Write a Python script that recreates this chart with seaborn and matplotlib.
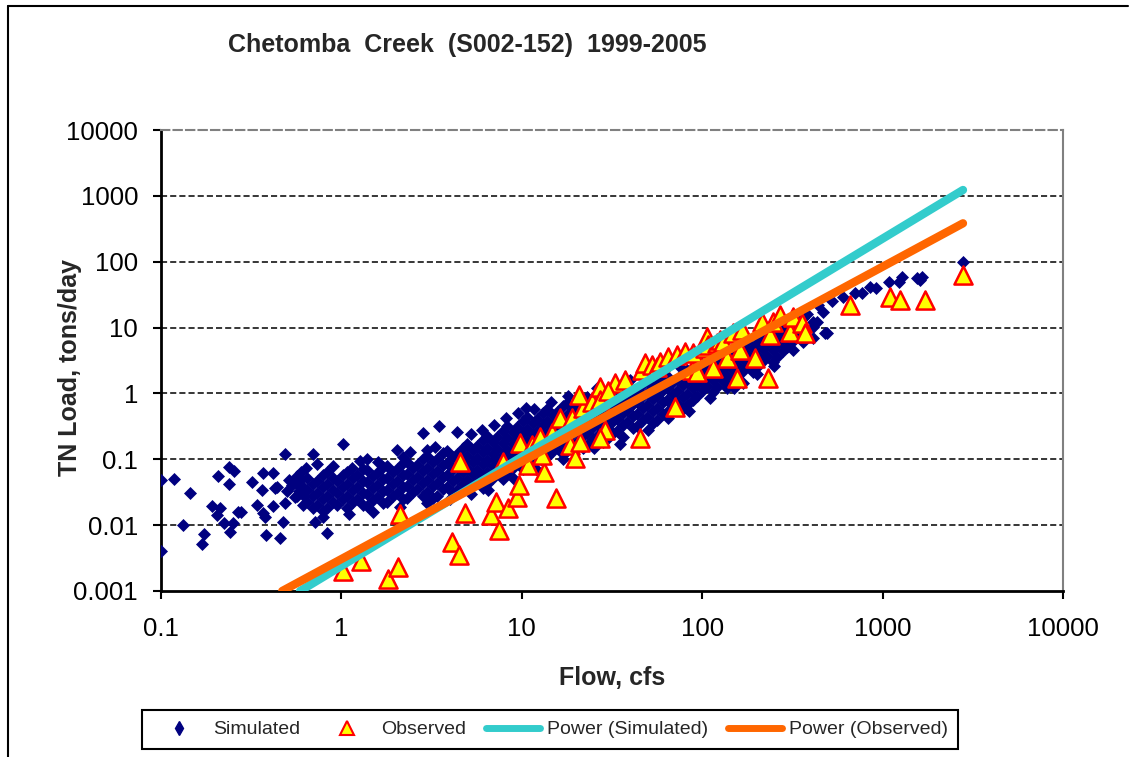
import pandas as pd
import matplotlib
matplotlib.use('Agg')
import matplotlib.pyplot as plt
from matplotlib.lines import Line2D
from matplotlib.ticker import NullLocator
import seaborn as sns

# Simulated daily loads: (flow cfs, TN load tons/day)
sim_sparse = [
    (0.1, 0.0485), (0.118, 0.05), (0.1, 0.0041), (0.132, 0.01), (0.145, 0.0308),
    (0.169, 0.0052), (0.173, 0.0073), (0.192, 0.0195), (0.204, 0.0143), (0.207, 0.0557),
    (0.212, 0.018), (0.223, 0.0108), (0.238, 0.0764), (0.238, 0.0422), (0.241, 0.0079),
    (0.25, 0.0108), (0.254, 0.0664), (0.267, 0.0158), (0.277, 0.016), (0.319, 0.0452),
    (0.341, 0.02), (0.363, 0.0342), (0.367, 0.062), (0.367, 0.0155), (0.377, 0.0135),
    (0.382, 0.0071), (0.42, 0.062), (0.43, 0.0365), (0.42, 0.0195), (0.44, 0.038),
    (0.457, 0.0064), (0.474, 0.011), (0.486, 0.12), (0.486, 0.0215), (0.53, 0.045),
    (0.55, 0.027), (0.51, 0.048), (0.53, 0.04), (0.56, 0.043), (0.58, 0.033),
    (0.6, 0.05), (0.62, 0.028), (0.5, 0.033), (0.57, 0.055), (0.6, 0.065),
    (0.64, 0.075), (0.697, 0.12), (0.73, 0.086), (0.716, 0.011), (0.79, 0.0135),
    (0.83, 0.0076),
]

sim_band_low = [
    (0.567, 0.052), (0.612, 0.038), (0.567, 0.028), (0.612, 0.020),
    (0.645, 0.052), (0.696, 0.042), (0.645, 0.034), (0.696, 0.028), (0.645, 0.0225), (0.696, 0.018),
    (0.791, 0.058), (0.732, 0.047), (0.791, 0.038), (0.732, 0.031), (0.791, 0.025), (0.732, 0.020), (0.791, 0.0164),
    (0.832, 0.064), (0.898, 0.052), (0.832, 0.042), (0.898, 0.034), (0.832, 0.028), (0.898, 0.0225), (0.832, 0.018),
    (1.02, 0.058), (0.945, 0.047), (1.02, 0.038), (0.945, 0.031), (1.02, 0.025), (0.945, 0.020),
    (1.07, 0.064), (1.16, 0.052), (1.07, 0.042), (1.16, 0.034), (1.07, 0.028), (1.16, 0.0225), (1.07, 0.018),
    (1.32, 0.071), (1.22, 0.058), (1.32, 0.047), (1.22, 0.038), (1.32, 0.031), (1.22, 0.025), (1.32, 0.020),
    (1.39, 0.069), (1.50, 0.056), (1.39, 0.045), (1.50, 0.037), (1.39, 0.030), (1.50, 0.024), (1.39, 0.0195),
    (1.70, 0.076), (1.58, 0.062), (1.70, 0.050), (1.58, 0.041), (1.70, 0.033), (1.58, 0.027), (1.70, 0.022),
    (1.79, 0.079), (1.93, 0.064), (1.79, 0.052), (1.93, 0.042), (1.79, 0.034), (1.93, 0.028), (1.79, 0.0225),
    (2.20, 0.088), (2.03, 0.071), (2.20, 0.058), (2.03, 0.047), (2.20, 0.038), (2.03, 0.031), (2.20, 0.025),
    (2.31, 0.091), (2.49, 0.074), (2.31, 0.060), (2.49, 0.049), (2.31, 0.039), (2.49, 0.032), (2.31, 0.026),
    (2.83, 0.101), (2.63, 0.082), (2.83, 0.066), (2.63, 0.054), (2.83, 0.043), (2.63, 0.035), (2.83, 0.028),
    (2.98, 0.112), (3.22, 0.091), (2.98, 0.074), (3.22, 0.060), (2.98, 0.049), (3.22, 0.039), (2.98, 0.032), (3.22, 0.026),
    (3.66, 0.125), (3.39, 0.101), (3.66, 0.082), (3.39, 0.066), (3.66, 0.054), (3.39, 0.043), (3.66, 0.035), (3.39, 0.028),
    (3.85, 0.134), (4.16, 0.108), (3.85, 0.088), (4.16, 0.071), (3.85, 0.058), (4.16, 0.047), (3.85, 0.038), (4.16, 0.031),
]

sim_band_mid = [
    (4.72, 0.148), (4.37, 0.120), (4.72, 0.098), (4.37, 0.079), (4.72, 0.064), (4.37, 0.052), (4.72, 0.042), (4.37, 0.034),
    (4.97, 0.171), (5.36, 0.138), (4.97, 0.112), (5.36, 0.091), (4.97, 0.074), (5.36, 0.060), (4.97, 0.049), (5.36, 0.039),
    (6.09, 0.196), (5.65, 0.160), (6.09, 0.130), (5.65, 0.105), (6.09, 0.085), (5.65, 0.069), (6.09, 0.056), (5.65, 0.045), (6.09, 0.037),
    (6.41, 0.226), (6.92, 0.183), (6.41, 0.148), (6.92, 0.120), (6.41, 0.098), (6.92, 0.079), (6.41, 0.064), (6.92, 0.052), (6.41, 0.042),
    (7.87, 0.27), (7.29, 0.22), (7.87, 0.177), (7.29, 0.143), (7.87, 0.116), (7.29, 0.094), (7.87, 0.076), (7.29, 0.062), (7.87, 0.050),
    (8.28, 0.32), (8.94, 0.26), (8.28, 0.21), (8.94, 0.171), (8.28, 0.138), (8.94, 0.112), (8.28, 0.091), (8.94, 0.074), (8.28, 0.060),
    (10.2, 0.38), (9.41, 0.31), (10.2, 0.25), (9.41, 0.20), (10.2, 0.165), (9.41, 0.134), (10.2, 0.108), (9.41, 0.088), (10.2, 0.071),
    (10.7, 0.44), (11.5, 0.355), (10.7, 0.29), (11.5, 0.234), (10.7, 0.19), (11.5, 0.153), (10.7, 0.125), (11.5, 0.101), (10.7, 0.082),
    (13.1, 0.505), (12.1, 0.41), (13.1, 0.33), (12.1, 0.27), (13.1, 0.22), (12.1, 0.177), (13.1, 0.143), (12.1, 0.116), (13.1, 0.094),
    (13.8, 0.58), (14.9, 0.47), (13.8, 0.38), (14.9, 0.31), (13.8, 0.25), (14.9, 0.20), (13.8, 0.165), (14.9, 0.134), (13.8, 0.108),
    (16.9, 0.645), (15.7, 0.523), (16.9, 0.424), (15.7, 0.344), (16.9, 0.279), (15.7, 0.226), (16.9, 0.183), (15.7, 0.148), (16.9, 0.120),
    (17.8, 0.716), (19.2, 0.58), (17.8, 0.47), (19.2, 0.38), (17.8, 0.31), (19.2, 0.25), (17.8, 0.20), (19.2, 0.165), (17.8, 0.134),
    (21.8, 0.795), (20.2, 0.645), (21.8, 0.523), (20.2, 0.424), (21.8, 0.344), (20.2, 0.279), (21.8, 0.226), (20.2, 0.183), (21.8, 0.148),
    (23.0, 0.883), (24.8, 0.716), (23.0, 0.58), (24.8, 0.47), (23.0, 0.38), (24.8, 0.31), (23.0, 0.25), (24.8, 0.20), (23.0, 0.165),
    (28.2, 0.98), (26.1, 0.795), (28.2, 0.645), (26.1, 0.523), (28.2, 0.424), (26.1, 0.344), (28.2, 0.279), (26.1, 0.226), (28.2, 0.183),
    (29.7, 1.09), (32.0, 0.883), (29.7, 0.716), (32.0, 0.58), (29.7, 0.47), (32.0, 0.38), (29.7, 0.31), (32.0, 0.25), (29.7, 0.20),
    (36.4, 1.17), (33.7, 0.95), (36.4, 0.77), (33.7, 0.62), (36.4, 0.50), (33.7, 0.41), (36.4, 0.33), (33.7, 0.27), (36.4, 0.22),
    (38.3, 1.29), (41.3, 1.05), (38.3, 0.85), (41.3, 0.69), (38.3, 0.56), (41.3, 0.45), (38.3, 0.37), (41.3, 0.30),
]

sim_band_high = [
    (47.0, 1.39), (43.5, 1.13), (47.0, 0.92), (43.5, 0.74), (47.0, 0.60), (43.5, 0.49), (47.0, 0.40), (43.5, 0.32),
    (49.4, 1.55), (53.4, 1.25), (49.4, 1.02), (53.4, 0.82), (49.4, 0.67), (53.4, 0.54), (49.4, 0.44), (53.4, 0.355),
    (60.6, 1.72), (56.2, 1.39), (60.6, 1.13), (56.2, 0.92), (60.6, 0.74), (56.2, 0.60), (60.6, 0.49), (56.2, 0.40),
    (63.8, 1.84), (68.9, 1.49), (63.8, 1.21), (68.9, 0.98), (63.8, 0.795), (68.9, 0.645), (63.8, 0.523),
    (78.3, 2.04), (72.5, 1.66), (78.3, 1.34), (72.5, 1.09), (78.3, 0.883), (72.5, 0.716), (78.3, 0.58),
    (82.4, 2.27), (88.9, 1.84), (82.4, 1.49), (88.9, 1.21), (82.4, 0.98), (88.9, 0.795), (82.4, 0.67),
    (101, 2.6), (93.6, 2.1), (101, 1.72), (93.6, 1.39), (101, 1.13), (93.6, 0.92),
    (106, 3.0), (115, 2.45), (106, 1.98), (115, 1.6), (106, 1.3), (115, 1.05),
    (130, 3.57), (121, 2.9), (130, 2.35), (121, 1.9), (130, 1.55), (121, 1.25),
    (137, 4.26), (148, 3.45), (137, 2.8), (148, 2.27), (137, 1.84), (148, 1.49), (137, 1.21),
    (168, 5.05), (156, 4.1), (168, 3.3), (156, 2.7), (168, 2.2), (156, 1.78), (168, 1.45),
    (177, 6.0), (191, 4.9), (177, 3.95), (191, 3.2), (177, 2.6), (191, 2.1),
    (217, 7.19), (201, 5.83), (217, 4.73), (201, 3.83), (217, 3.11), (201, 2.52),
    (229, 8.6), (247, 6.95), (229, 5.6), (247, 4.6), (229, 3.7), (247, 3.0),
    (280, 10.2), (260, 8.3), (280, 6.7), (260, 5.45), (280, 4.4), (260, 3.57),
    (295, 11.8), (319, 9.5), (295, 7.7), (319, 6.25), (295, 5.05),
    (362, 14.0), (335, 11.3), (362, 9.2), (335, 7.45), (362, 6.0),
    (381, 16.1), (411, 12.2), (381, 9.2), (411, 6.95),
    (467, 17.2), (433, 12.2),
]

sim_fringe = [
    (1.02, 0.17), (1.27, 0.094), (1.38, 0.10), (2.03, 0.138), (2.2, 0.11), (2.83, 0.25),
    (2.98, 0.14), (3.3, 0.154), (3.48, 0.32), (4.37, 0.26), (5.2, 0.24), (6.0, 0.28),
    (7.0, 0.33), (8.2, 0.42), (9.5, 0.5), (10.5, 0.6), (11.7, 0.58), (14.5, 0.75),
    (18, 0.9), (26, 1.2), (40, 1.6), (55, 2.1), (75, 2.5), (95, 3.2), (120, 4.3),
    (0.9, 0.08), (1.6, 0.09), (2.4, 0.13), (1.15, 0.075),
    (1.1, 0.015), (1.5, 0.016), (2.1, 0.019), (3.0, 0.022), (4.0, 0.025), (5.2, 0.030),
    (6.5, 0.034), (9.0, 0.05), (12, 0.07), (17, 0.1), (25, 0.15), (35, 0.17),
    (50, 0.28), (65, 0.42), (85, 0.55), (110, 0.85), (150, 1.2), (200, 2.0), (250, 2.6),
]

sim_tail = [
    (319, 4.6), (411, 10.2), (438, 22), (480, 8.3), (492, 8.3), (525, 25), (603, 29),
    (703, 33.5), (769, 34), (851, 41), (919, 40), (1086, 49), (1233, 49), (1282, 58.5),
    (1552, 57), (1612, 52.7), (1652, 58.5), (2790, 99),
]

# Observed samples
observed = [
    (1.02, 0.0020), (1.29, 0.0029), (1.81, 0.0015), (2.06, 0.0023), (2.10, 0.0148),
    (4.10, 0.0055), (4.50, 0.0035), (4.84, 0.0153), (4.55, 0.091), (6.75, 0.0143),
    (7.20, 0.0225), (7.48, 0.0085), (8.39, 0.018), (9.40, 0.027), (9.66, 0.041),
    (9.80, 0.177), (7.87, 0.091), (10.8, 0.082), (11.4, 0.165), (13.3, 0.064),
    (13.0, 0.116), (12.6, 0.218), (14.7, 0.25), (15.5, 0.026), (18.5, 0.165),
    (19.7, 0.105), (21.0, 0.18), (16.3, 0.42), (19.0, 0.43), (21.8, 0.60),
    (20.8, 0.95), (24.5, 0.74), (27.1, 1.25), (27.0, 0.79), (28.9, 0.28),
    (27.0, 0.21), (32.9, 1.44), (37.3, 1.60), (30.0, 1.10), (45.2, 0.21),
    (46.4, 2.27), (48.2, 2.90), (53.0, 2.70), (56.0, 2.50), (58.4, 3.00),
    (64.6, 3.57), (72.5, 3.80), (70.6, 0.62), (80.0, 4.30), (88.0, 2.30),
    (89.0, 4.10), (93.6, 2.10), (103, 4.90), (106, 7.20), (108, 5.40),
    (115, 2.43), (121, 5.80), (125, 6.50), (130, 6.00), (137, 3.45),
    (148, 8.30), (156, 1.71), (162, 4.60), (166, 9.20), (196, 3.40),
    (214, 12.3), (232, 1.70), (238, 7.70), (247, 12.2), (270, 15.5),
    (307, 8.60), (319, 14.5), (357, 11.7), (372, 8.30), (659, 22.0),
    (1099, 29.0), (1248, 26.0), (1718, 26.0), (2790, 63.0),
]

# Power trendline end points as drawn
trend_sim_flow = [0.59, 2790]
trend_sim_load = [0.001, 1228]
trend_obs_flow = [0.47, 2790]
trend_obs_load = [0.001, 383]

x_ticks = [0.1, 1, 10, 100, 1000, 10000]
x_tick_labels = ['0.1', '1', '10', '100', '1000', '10000']
y_ticks = [0.001, 0.01, 0.1, 1, 10, 100, 1000, 10000]
y_tick_labels = ['0.001', '0.01', '0.1', '1', '10', '100', '1000', '10000']

df_sim = pd.DataFrame(sim_sparse + sim_band_low + sim_band_mid + sim_band_high + sim_fringe + sim_tail,
                      columns=['flow', 'load'])
df_obs = pd.DataFrame(observed, columns=['flow', 'load'])

sns.set_style('white')
plt.rcParams['font.family'] = ['Liberation Sans', 'DejaVu Sans']

W, H = 1134, 757
fig = plt.figure(figsize=(W / 100, H / 100), dpi=100)
ax = fig.add_axes([161 / W, 1 - 591 / H, 902 / W, 461 / H])
ax.set_xscale('log')
ax.set_yscale('log')

for yv in y_ticks[1:-1]:
    ax.axhline(yv, color='black', linestyle=(0, (4, 2)), linewidth=1.1, zorder=1)

sns.scatterplot(data=df_sim, x='flow', y='load', marker='D', s=44, color='#000080',
                linewidth=0, ax=ax, zorder=3, legend=False)
sns.scatterplot(data=df_obs, x='flow', y='load', marker='^', s=170, color='#FFFF00',
                edgecolor='#FF0000', linewidth=1.8, ax=ax, zorder=4, legend=False)
sns.lineplot(x=trend_sim_flow, y=trend_sim_load, color='#33CCCC', linewidth=6,
             solid_capstyle='round', ax=ax, zorder=5)
sns.lineplot(x=trend_obs_flow, y=trend_obs_load, color='#FF6600', linewidth=6,
             solid_capstyle='round', ax=ax, zorder=6)

ax.set_xlim(0.1, 10000)
ax.set_ylim(0.001, 10000)
ax.set_xticks(x_ticks)
ax.set_xticklabels(x_tick_labels)
ax.set_yticks(y_ticks)
ax.set_yticklabels(y_tick_labels)
ax.xaxis.set_minor_locator(NullLocator())
ax.yaxis.set_minor_locator(NullLocator())
ax.tick_params(axis='both', direction='out', length=6, width=1.5, color='black',
               labelsize=18.5, labelcolor='black')
ax.tick_params(axis='x', pad=13, bottom=True)
ax.tick_params(axis='y', pad=10.5, left=True)

for side in ['left', 'bottom']:
    ax.spines[side].set_color('black')
    ax.spines[side].set_linewidth(2)
ax.spines['right'].set_color('#808080')
ax.spines['right'].set_linewidth(1.5)
ax.spines['top'].set_color('#808080')
ax.spines['top'].set_linewidth(1.5)
ax.spines['top'].set_linestyle((0, (4, 2)))

ax.set_xlabel('Flow, cfs', fontsize=18, fontweight='bold')
ax.xaxis.label.set_va('center')
ax.xaxis.set_label_coords(0.5, (591 - 678) / 461)
ax.set_ylabel('TN Load, tons/day', fontsize=18, fontweight='bold')
ax.yaxis.label.set_va('center')
ax.yaxis.set_label_coords((70 - 161) / 902, (591 - 367) / 461)

fig.text(228 / W, 1 - 45 / H, 'Chetomba  Creek  (S002-152)  1999-2005',
         fontsize=18, fontweight='bold', ha='left', va='center')

# outer chart frame (left and top edges visible)
fig.add_artist(Line2D([8 / W, 8 / W], [0, 1 - 6 / H], transform=fig.transFigure,
                      color='black', linewidth=1.5))
fig.add_artist(Line2D([8 / W, 1128 / W], [1 - 6 / H, 1 - 6 / H], transform=fig.transFigure,
                      color='black', linewidth=1.5))

handles = [
    Line2D([], [], marker='d', color='#000080', linestyle='None', markersize=7),
    Line2D([], [], marker='^', markerfacecolor='#FFFF00', markeredgecolor='#FF0000',
           markeredgewidth=1.5, linestyle='None', markersize=10),
    Line2D([], [], color='#33CCCC', linewidth=5),
    Line2D([], [], color='#FF6600', linewidth=5),
]
labels = ['Simulated', 'Observed', 'Power (Simulated)', 'Power (Observed)']
leg = fig.legend(handles, labels, loc='center', bbox_to_anchor=(550 / W, 1 - 729.5 / H),
                 ncol=4, frameon=True, fancybox=False, edgecolor='black', framealpha=1,
                 fontsize=14, handlelength=2.8, handletextpad=0.35, columnspacing=1.0,
                 borderpad=0.55)
leg.get_frame().set_linewidth(1.5)

fig.savefig('out.png', dpi=100)
